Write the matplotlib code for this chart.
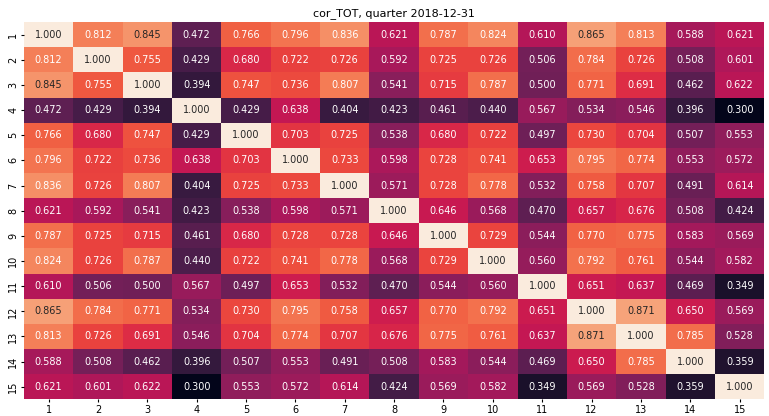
"""
Correlation heatmap of total returns for one quarter.
"""

import matplotlib
matplotlib.use("Agg")
import matplotlib.pyplot as plt
import numpy as np
import seaborn as sns

labels = [str(i) for i in range(1, 16)]

corr = [
    [1.000, 0.812, 0.845, 0.472, 0.766, 0.796, 0.836, 0.621, 0.787, 0.824, 0.610, 0.865, 0.813, 0.588, 0.621],
    [0.812, 1.000, 0.755, 0.429, 0.680, 0.722, 0.726, 0.592, 0.725, 0.726, 0.506, 0.784, 0.726, 0.508, 0.601],
    [0.845, 0.755, 1.000, 0.394, 0.747, 0.736, 0.807, 0.541, 0.715, 0.787, 0.500, 0.771, 0.691, 0.462, 0.622],
    [0.472, 0.429, 0.394, 1.000, 0.429, 0.638, 0.404, 0.423, 0.461, 0.440, 0.567, 0.534, 0.546, 0.396, 0.300],
    [0.766, 0.680, 0.747, 0.429, 1.000, 0.703, 0.725, 0.538, 0.680, 0.722, 0.497, 0.730, 0.704, 0.507, 0.553],
    [0.796, 0.722, 0.736, 0.638, 0.703, 1.000, 0.733, 0.598, 0.728, 0.741, 0.653, 0.795, 0.774, 0.553, 0.572],
    [0.836, 0.726, 0.807, 0.404, 0.725, 0.733, 1.000, 0.571, 0.728, 0.778, 0.532, 0.758, 0.707, 0.491, 0.614],
    [0.621, 0.592, 0.541, 0.423, 0.538, 0.598, 0.571, 1.000, 0.646, 0.568, 0.470, 0.657, 0.676, 0.508, 0.424],
    [0.787, 0.725, 0.715, 0.461, 0.680, 0.728, 0.728, 0.646, 1.000, 0.729, 0.544, 0.770, 0.775, 0.583, 0.569],
    [0.824, 0.726, 0.787, 0.440, 0.722, 0.741, 0.778, 0.568, 0.729, 1.000, 0.560, 0.792, 0.761, 0.544, 0.582],
    [0.610, 0.506, 0.500, 0.567, 0.497, 0.653, 0.532, 0.470, 0.544, 0.560, 1.000, 0.651, 0.637, 0.469, 0.349],
    [0.865, 0.784, 0.771, 0.534, 0.730, 0.795, 0.758, 0.657, 0.770, 0.792, 0.651, 1.000, 0.871, 0.650, 0.569],
    [0.813, 0.726, 0.691, 0.546, 0.704, 0.774, 0.707, 0.676, 0.775, 0.761, 0.637, 0.871, 1.000, 0.785, 0.528],
    [0.588, 0.508, 0.462, 0.396, 0.507, 0.553, 0.491, 0.508, 0.583, 0.544, 0.469, 0.650, 0.785, 1.000, 0.359],
    [0.621, 0.601, 0.622, 0.300, 0.553, 0.572, 0.614, 0.424, 0.569, 0.582, 0.349, 0.569, 0.528, 0.359, 1.000],
]

if __name__ == "__main__":
    fig, ax = plt.subplots(figsize=(7.69, 4.16), dpi=100)
    sns.heatmap(
        np.array(corr),
        annot=True,
        fmt=".3f",
        cbar=False,
        xticklabels=labels,
        yticklabels=labels,
        annot_kws={"size": 7},
        ax=ax,
    )
    ax.set_title("cor_TOT, quarter 2018-12-31", fontsize=8, pad=4)
    # short ticks so the labels fit under the grid
    ax.tick_params(labelsize=7, length=2.5, pad=1.5)
    plt.setp(ax.get_yticklabels(), rotation=90, va="center")
    plt.setp(ax.get_xticklabels(), rotation=0)
    fig.subplots_adjust(left=0.031, right=0.994, top=0.947, bottom=0.040)
    fig.savefig("out.png")
